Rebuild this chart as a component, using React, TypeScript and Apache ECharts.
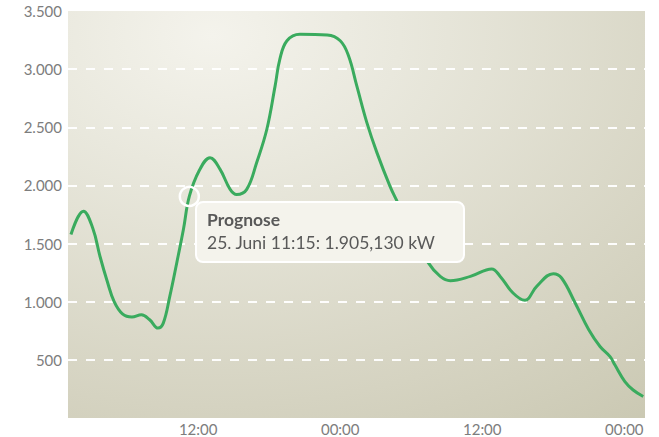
import React, { useEffect, useRef } from "react";
import * as echarts from "echarts";

// hours since 25 June 00:00
const hours = [1.25, 2.3, 3.1, 3.7, 4.3, 4.9, 5.6, 6.4, 7.2, 7.9, 8.6, 9.05, 9.6, 10.2, 10.75, 11.25, 12.1, 13.0, 13.85, 14.7, 15.25, 16.1, 16.95, 17.8, 18.5, 18.9, 19.5, 20.6, 22.9, 24.0, 24.7, 25.4, 26.25, 27.1, 28.2, 28.8, 30.1, 31.45, 32.45, 33.3, 35.0, 36.8, 37.5, 38.6, 39.6, 40.6, 42.0, 42.7, 43.85, 45.0, 45.95, 46.8, 47.2, 48.05, 48.75, 49.6];
const values = [1578, 1779, 1630, 1391, 1180, 1000, 895, 868, 888, 845, 773, 816, 1046, 1340, 1621, 1905.13, 2130, 2239, 2138, 1966, 1922, 1966, 2200, 2483, 2856, 3086, 3244, 3300, 3293, 3244, 3115, 2856, 2540, 2282, 1994, 1865, 1600, 1334, 1218, 1181, 1218, 1282, 1220, 1075, 1012, 1132, 1241, 1204, 989, 759, 615, 528, 457, 313, 241, 185];
const xTicks = [12, 24, 36, 48];
const seriesName = "Prognose";
const tipIndex = 15;

function deNumber(v: number, dec: number): string {
  const fixed = v.toFixed(dec);
  const [intPart, fracPart] = fixed.split(".");
  const withDots = intPart.replace(/\B(?=(\d{3})+(?!\d))/g, ".");
  return fracPart ? withDots + "," + fracPart : withDots;
}

function timeLabel(h: number): string {
  const day = 25 + Math.floor(h / 24);
  const hh = Math.floor(h % 24);
  const mm = Math.round((h % 1) * 60);
  return `${day}. Juni ${String(hh).padStart(2, "0")}:${String(mm).padStart(2, "0")}`;
}

export default function App() {
  const ref = useRef<HTMLDivElement>(null);
  useEffect(() => {
    if (!ref.current) return;
    document.body.style.margin = "0";
    const chart = echarts.init(ref.current, undefined, { renderer: "svg" });
    const data = hours.map((h, i) => [h, values[i]]);
    const font = "Lato, 'Open Sans', sans-serif";
    chart.setOption({
      animation: false,
      textStyle: { fontFamily: font },
      grid: {
        left: 68,
        right: 14,
        top: 11,
        bottom: 19,
        show: true,
        borderWidth: 0,
        backgroundColor: {
          type: "radial",
          x: 0.25,
          y: 0.06,
          r: 1.3,
          colorStops: [
            { offset: 0, color: "#f4f3ec" },
            { offset: 0.25, color: "#e9e8dd" },
            { offset: 0.7, color: "#d5d3c1" },
            { offset: 1, color: "#c7c5ae" },
          ],
        },
      },
      tooltip: {
        trigger: "axis",
        alwaysShowContent: true,
        axisPointer: { type: "none" },
        transitionDuration: 0,
        showDelay: 0,
        backgroundColor: "#f4f3ec",
        borderColor: "#ffffff",
        borderWidth: 2,
        borderRadius: 8,
        padding: [5, 28, 7, 10],
        extraCssText: "box-shadow:none;",
        textStyle: { color: "#595959", fontFamily: font, fontSize: 17.5 },
        position: (pt: number[]) => [pt[0] + 6, pt[1] + 5],
        formatter: (params: any) => {
          const p = Array.isArray(params) ? params[0] : params;
          const d = p.data as number[];
          return `<div style="font-weight:bold;line-height:23px">${p.seriesName}</div>` +
            `<div style="line-height:23px">${timeLabel(d[0])}: ${deNumber(d[1], 3)} kW</div>`;
        },
      },
      xAxis: {
        type: "value",
        min: 1,
        max: 49.75,
        axisLine: { show: false },
        axisTick: { show: false },
        splitLine: { show: false },
        axisLabel: {
          customValues: xTicks,
          color: "#7d7d7d",
          fontSize: 15,
          fontFamily: font,
          margin: 3,
          formatter: (v: number) => `${String(Math.round(v) % 24).padStart(2, "0")}:00`,
        },
      },
      yAxis: {
        type: "value",
        min: 0,
        max: 3500,
        interval: 500,
        axisLine: { show: false },
        axisTick: { show: false },
        axisLabel: {
          color: "#7d7d7d",
          fontSize: 15,
          fontFamily: font,
          margin: 6,
          showMinLabel: false,
          formatter: (v: number) => (v === 0 ? "" : deNumber(v, 0)),
        },
        splitLine: {
          show: true,
          showMinLine: false,
          showMaxLine: false,
          lineStyle: { color: "rgba(255,255,255,0.95)", width: 2, type: [9, 9] },
        },
      },
      series: [
        {
          name: seriesName,
          type: "line",
          data,
          smooth: 0.4,
          symbol: "none",
          lineStyle: { color: "#3aab5e", width: 3 },
          itemStyle: { color: "#3aab5e" },
          emphasis: { disabled: true },
          markPoint: {
            silent: true,
            symbol: "circle",
            symbolSize: 19,
            label: { show: false },
            itemStyle: { color: "rgba(0,0,0,0)", borderColor: "#ffffff", borderWidth: 2.5 },
            data: [{ coord: [hours[tipIndex], values[tipIndex]] }],
          },
        },
      ],
    });
    const show = () => chart.dispatchAction({ type: "showTip", seriesIndex: 0, dataIndex: tipIndex });
    show();
    const t = setTimeout(show, 50);
    return () => {
      clearTimeout(t);
      chart.dispose();
    };
  }, []);
  return <div ref={ref} style={{ position: "absolute", left: 0, top: 0, width: 659, height: 437 }} />;
}
